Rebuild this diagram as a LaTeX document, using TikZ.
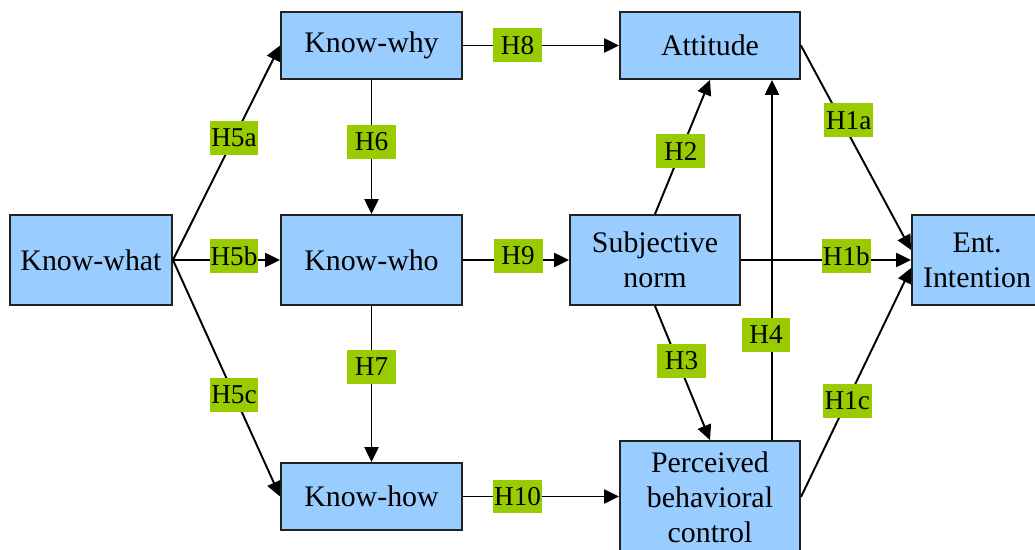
\documentclass[tikz,border=0pt]{standalone}
\usepackage{fontspec}
\setmainfont{Liberation Serif}
\usetikzlibrary{arrows.meta}
\definecolor{boxblue}{HTML}{99CCFF}
\definecolor{hypgreen}{HTML}{99CC00}
\definecolor{boxline}{HTML}{222222}
\begin{document}
\begin{tikzpicture}[x=0.02cm,y=-0.02cm,
  construct/.style={draw=boxline, fill=boxblue, line width=1.1pt, align=center,
    font=\fontsize{17}{20}\selectfont, inner sep=0pt},
  hyp/.style={fill=hypgreen, inner sep=0pt, minimum width=0.98cm,
    minimum height=0.68cm, font=\fontsize{15.5}{17}\selectfont},
  link/.style={line width=1.1pt, -{Triangle[length=8.5pt,width=8pt]}}]
\clip (0,0) rectangle (1035,550);

% knowledge constructs
\node[construct, minimum width=3.24cm, minimum height=1.8cm]  (what) at (91,260)    {Know-what};
\node[construct, minimum width=3.62cm, minimum height=1.34cm] (why)  at (371.5,45.5) {Know-why};
\node[construct, minimum width=3.62cm, minimum height=1.8cm]  (who)  at (371.5,260)  {Know-who};
\node[construct, minimum width=3.62cm, minimum height=1.34cm] (how)  at (371.5,496.5) {Know-how};

% TPB constructs
\node[construct, minimum width=3.6cm, minimum height=1.34cm] (att) at (710,45.5) {Attitude};
\node[construct, minimum width=3.4cm, minimum height=1.8cm]  (sn)  at (655,260)  {Subjective\\norm};
\node[construct, minimum width=3.6cm, minimum height=2.24cm] (pbc) at (710,497)  {Perceived\\behavioral\\control};
\node[construct, minimum width=2.6cm, minimum height=1.8cm]  (ent) at (977,260)  {Ent.\\Intention};

% hypotheses among knowledge types
\draw[link] (what.east) -- node[hyp, pos=0.57] {H5a} (why.west);
\draw[link] (what.east) -- node[hyp, pos=0.57, yshift=0.08cm] {H5b} (who.west);
\draw[link] (what.east) -- node[hyp, pos=0.57] {H5c} (how.west);
\draw[link] (why.south) -- node[hyp, pos=0.46] {H6} (who.north);
\draw[link] (who.south) -- node[hyp, pos=0.39] {H7} (how.north);

% knowledge to TPB
\draw[link] (why.east) -- node[hyp, pos=0.35] {H8} (att.west);
\draw[link] (who.east) -- node[hyp, pos=0.52, yshift=0.08cm] {H9} (sn.west);
\draw[link] (how.east) -- node[hyp, pos=0.35] {H10} (how.east -| pbc.west);

% within TPB
\draw[link] (sn.north) -- node[hyp, pos=0.47] {H2} (att.south);
\draw[link] (sn.south) -- node[hyp, pos=0.41, xshift=0.08cm] {H3} (pbc.north);
\draw[link] ([xshift=1.24cm]pbc.north) -- node[hyp, pos=0.293, xshift=-0.12cm] {H4} ([xshift=1.24cm]att.south);

% to intention
\draw[link] (att.east) -- node[hyp, pos=0.366, xshift=0.15cm] {H1a} ([yshift=0.2cm]ent.west);
\draw[link] (sn.east) -- node[hyp, pos=0.62, yshift=0.08cm] {H1b} (ent.west);
\draw[link] (pbc.east) -- node[hyp, pos=0.42] {H1c} ([yshift=-0.16cm]ent.west);
\end{tikzpicture}
\end{document}
